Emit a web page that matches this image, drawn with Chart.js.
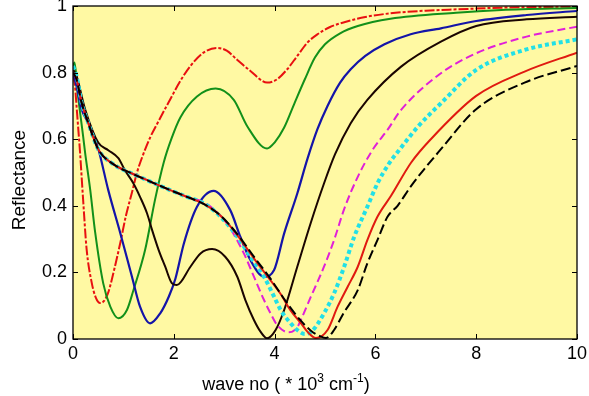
<!DOCTYPE html>
<html>
<head>
<meta charset="utf-8">
<script src="https://cdn.jsdelivr.net/npm/chart.js@4/dist/chart.umd.min.js"></script>
<style>
html,body{margin:0;padding:0;background:#fff;}
#wrap{width:589px;height:396px;position:relative;}
</style>
</head>
<body>
<div id="wrap"><canvas id="c" width="589" height="396"></canvas></div>
<script>
// ---- data ----
const xTicks = [0, 2, 4, 6, 8, 10];
const yTicks = [0, 0.2, 0.4, 0.6, 0.8, 1];

const redDashX = [0, 0.04, 0.07, 0.1, 0.14, 0.2, 0.27, 0.37, 0.45, 0.54, 0.62, 0.7, 0.82, 0.94, 1.05, 1.17, 1.27, 1.37, 1.53, 1.7, 1.93, 2.13, 2.33, 2.59, 2.85, 3.05, 3.26, 3.52, 3.85, 4.05, 4.25, 4.45, 4.65, 4.85, 5.1, 5.4, 5.8, 6.3, 7.0, 7.63, 8.5, 10];
const redDashY = [0.79, 0.76, 0.70, 0.64, 0.56, 0.42, 0.27, 0.17, 0.125, 0.108, 0.115, 0.14, 0.21, 0.29, 0.37, 0.44, 0.50, 0.545, 0.605, 0.655, 0.72, 0.775, 0.82, 0.86, 0.874, 0.866, 0.838, 0.805, 0.77, 0.78, 0.81, 0.85, 0.89, 0.915, 0.937, 0.952, 0.967, 0.978, 0.986, 0.99, 0.995, 0.998];

const greenX = [0, 0.03, 0.1, 0.2, 0.24, 0.34, 0.44, 0.6, 0.74, 0.9, 1.07, 1.2, 1.43, 1.63, 1.8, 1.95, 2.13, 2.46, 2.83, 3.19, 3.46, 3.85, 4.0, 4.19, 4.4, 4.6, 4.8, 5.0, 5.3, 5.65, 6.3, 7.6, 8.5, 10];
const greenY = [0.82, 0.83, 0.73, 0.61, 0.56, 0.45, 0.32, 0.167, 0.097, 0.062, 0.087, 0.147, 0.267, 0.42, 0.53, 0.60, 0.665, 0.728, 0.752, 0.718, 0.638, 0.572, 0.59, 0.635, 0.71, 0.78, 0.845, 0.885, 0.918, 0.94, 0.962, 0.98, 0.988, 0.994];

const blueX = [0, 0.07, 0.17, 0.34, 0.5, 0.7, 0.94, 1.17, 1.33, 1.53, 1.73, 1.9, 2.03, 2.2, 2.46, 2.79, 3.12, 3.32, 3.52, 3.79, 3.99, 4.19, 4.45, 4.65, 4.85, 5.05, 5.3, 5.51, 5.8, 6.18, 6.7, 7.3, 8.0, 9.0, 10];
const blueY = [0.80, 0.76, 0.69, 0.64, 0.572, 0.447, 0.317, 0.187, 0.097, 0.047, 0.077, 0.127, 0.18, 0.287, 0.397, 0.445, 0.387, 0.307, 0.237, 0.187, 0.207, 0.317, 0.437, 0.54, 0.63, 0.70, 0.77, 0.81, 0.85, 0.885, 0.915, 0.933, 0.955, 0.973, 0.985];

const blackX = [0, 0.07, 0.24, 0.5, 0.7, 0.9, 1.03, 1.2, 1.33, 1.47, 1.57, 1.7, 1.83, 1.96, 2.06, 2.33, 2.53, 2.76, 3.02, 3.26, 3.42, 3.59, 3.72, 3.85, 4.02, 4.19, 4.45, 4.72, 4.98, 5.2, 5.51, 5.84, 6.51, 7.3, 8.0, 9.0, 10];
const blackY = [0.81, 0.79, 0.69, 0.59, 0.567, 0.543, 0.507, 0.467, 0.427, 0.377, 0.327, 0.267, 0.217, 0.168, 0.162, 0.217, 0.257, 0.27, 0.247, 0.187, 0.117, 0.057, 0.022, 0.002, 0.027, 0.087, 0.217, 0.35, 0.467, 0.555, 0.648, 0.718, 0.818, 0.893, 0.94, 0.96, 0.968];

const magentaX = [0, 0.07, 0.17, 0.3, 0.5, 0.8, 1.17, 1.5, 1.93, 2.26, 2.66, 3.06, 3.39, 3.59, 3.79, 3.92, 4.05, 4.28, 4.45, 4.52, 4.72, 4.98, 5.18, 5.38, 5.65, 5.94, 6.24, 6.51, 7.3, 8.0, 9.0, 10];
const magentaY = [0.80, 0.78, 0.71, 0.65, 0.57, 0.525, 0.497, 0.475, 0.447, 0.427, 0.405, 0.345, 0.257, 0.187, 0.117, 0.077, 0.042, 0.02, 0.035, 0.057, 0.127, 0.217, 0.297, 0.39, 0.487, 0.567, 0.628, 0.688, 0.798, 0.858, 0.908, 0.938];

const cyanX = [0, 0.07, 0.17, 0.3, 0.5, 0.8, 1.17, 1.5, 1.93, 2.26, 2.6, 2.93, 3.26, 3.52, 3.79, 3.99, 4.12, 4.32, 4.45, 4.6, 4.75, 4.98, 5.18, 5.38, 5.58, 5.84, 6.04, 6.27, 6.47, 6.84, 7.3, 8.0, 8.96, 10];
const cyanY = [0.82, 0.79, 0.71, 0.65, 0.57, 0.525, 0.497, 0.475, 0.447, 0.427, 0.407, 0.367, 0.307, 0.247, 0.187, 0.127, 0.087, 0.047, 0.027, 0.015, 0.025, 0.077, 0.137, 0.217, 0.307, 0.397, 0.467, 0.527, 0.567, 0.637, 0.708, 0.808, 0.868, 0.90];

const redX = [0, 0.07, 0.17, 0.3, 0.5, 0.8, 1.17, 1.5, 1.93, 2.26, 2.6, 2.93, 3.26, 3.6, 3.9, 4.12, 4.32, 4.52, 4.65, 4.82, 5.05, 5.25, 5.45, 5.65, 5.84, 6.04, 6.31, 6.71, 7.1, 8.0, 8.96, 10];
const redY = [0.80, 0.78, 0.71, 0.65, 0.57, 0.525, 0.497, 0.475, 0.447, 0.427, 0.405, 0.37, 0.312, 0.24, 0.18, 0.135, 0.085, 0.048, 0.022, 0.003, 0.027, 0.097, 0.157, 0.217, 0.297, 0.367, 0.43, 0.53, 0.60, 0.73, 0.803, 0.86];

const blackDashX = [0, 0.07, 0.17, 0.3, 0.5, 0.8, 1.17, 1.5, 1.93, 2.26, 2.6, 2.93, 3.26, 3.6, 3.9, 4.25, 4.52, 4.72, 4.92, 5.02, 5.18, 5.37, 5.65, 5.84, 6.04, 6.24, 6.44, 6.71, 7.3, 8.0, 8.96, 10];
const blackDashY = [0.80, 0.78, 0.71, 0.65, 0.57, 0.525, 0.497, 0.475, 0.447, 0.427, 0.405, 0.37, 0.315, 0.245, 0.185, 0.107, 0.055, 0.025, 0.007, 0.003, 0.027, 0.078, 0.147, 0.227, 0.297, 0.367, 0.40, 0.46, 0.57, 0.69, 0.77, 0.82];

// ---- build datasets ----
function pts(xs, ys){ return xs.map((x,i)=>({x:x, y:ys[i]})); }
const seriesDefs = [
  {xs:redDashX,   ys:redDashY,   color:'#e81010', w:2,   dash:[10,2,3,2]},
  {xs:greenX,     ys:greenY,     color:'#12901a', w:2,   dash:[]},
  {xs:blueX,      ys:blueY,      color:'#1414a8', w:2.2, dash:[]},
  {xs:blackX,     ys:blackY,     color:'#1a0500', w:2,   dash:[]},
  {xs:magentaX,   ys:magentaY,   color:'#e020d8', w:2,   dash:[8,4]},
  {xs:cyanX,      ys:cyanY,      color:'#22e0e6', w:4,   dash:[4,3]},
  {xs:redX,       ys:redY,       color:'#e01a10', w:2,   dash:[]},
  {xs:blackDashX, ys:blackDashY, color:'#000000', w:2,   dash:[10,4]}
];
const datasets = seriesDefs.map((s,i)=>({
  data: pts(s.xs, s.ys),
  borderColor: s.color,
  borderWidth: s.w,
  borderDash: s.dash,
  pointRadius: 0,
  fill: false,
  cubicInterpolationMode: 'monotone',
  order: seriesDefs.length - i
}));

const FONT = '"Liberation Sans", Arial, sans-serif';

const framePlugin = {
  id: 'frame',
  beforeDraw(chart){
    const {ctx, chartArea:a} = chart;
    ctx.save();
    ctx.fillStyle = '#fff9a3';
    ctx.fillRect(a.left, a.top, a.right - a.left, a.bottom - a.top);
    ctx.restore();
  },
  afterDraw(chart){
    const {ctx, chartArea:a, scales} = chart;
    const xs = scales.x, ys = scales.y;
    ctx.save();
    ctx.strokeStyle = '#000';
    ctx.lineWidth = 1.3;
    ctx.strokeRect(a.left, a.top, a.right - a.left, a.bottom - a.top);
    const L = 5;
    ctx.lineWidth = 1;
    ctx.beginPath();
    xTicks.forEach(v=>{
      const p = Math.round(xs.getPixelForValue(v)) + 0.5;
      ctx.moveTo(p, a.bottom); ctx.lineTo(p, a.bottom - L);
      ctx.moveTo(p, a.top); ctx.lineTo(p, a.top + L);
    });
    yTicks.forEach(v=>{
      const p = Math.round(ys.getPixelForValue(v)) + 0.5;
      ctx.moveTo(a.left, p); ctx.lineTo(a.left + L, p);
      ctx.moveTo(a.right, p); ctx.lineTo(a.right - L, p);
    });
    ctx.stroke();

    // axis titles
    ctx.fillStyle = '#000';
    ctx.textBaseline = 'alphabetic';
    ctx.save();
    ctx.translate(25, 180);
    ctx.rotate(-Math.PI/2);
    ctx.textAlign = 'center';
    ctx.font = '19px ' + FONT;
    ctx.fillText('Reflectance', 0, 0);
    ctx.restore();
    const parts = [
      {t:'wave no ( * 10', sup:false},
      {t:'3', sup:true},
      {t:' cm', sup:false},
      {t:'-1', sup:true},
      {t:')', sup:false}
    ];
    const big = '18px ' + FONT, small = '12px ' + FONT;
    let total = 0;
    parts.forEach(p=>{ ctx.font = p.sup ? small : big; total += ctx.measureText(p.t).width; });
    let x = 286 - total/2;
    const base = 390;
    ctx.textAlign = 'left';
    parts.forEach(p=>{
      ctx.font = p.sup ? small : big;
      ctx.fillText(p.t, x, p.sup ? base - 8 : base);
      x += ctx.measureText(p.t).width;
    });
    ctx.restore();
  }
};

new Chart(document.getElementById('c'), {
  type: 'line',
  data: { datasets },
  options: {
    responsive: false,
    animation: false,
    devicePixelRatio: 1,
    layout: { padding: { top: 6, right: 12, left: 0, bottom: 0 } },
    plugins: { legend: { display: false }, tooltip: { enabled: false } },
    scales: {
      x: {
        type: 'linear', min: 0, max: 10,
        afterBuildTicks(scale){ scale.ticks = xTicks.map(v=>({value:v})); },
        afterFit(scale){ scale.height = 57; scale.paddingLeft = 0; scale.paddingRight = 0; },
        grid: { display: false, drawTicks: false },
        border: { display: false },
        ticks: { color: '#000', font: { size: 18, family: FONT }, padding: 4, maxRotation: 0,
                 callback: v => String(v) }
      },
      y: {
        type: 'linear', min: 0, max: 1,
        afterBuildTicks(scale){ scale.ticks = yTicks.map(v=>({value:v})); },
        afterFit(scale){ scale.width = 73; scale.paddingTop = 0; scale.paddingBottom = 0; },
        grid: { display: false, drawTicks: false },
        border: { display: false },
        ticks: { color: '#000', font: { size: 18, family: FONT }, padding: 6,
                 callback: v => (v === 0 ? '0' : v === 1 ? '1' : v.toFixed(1)) }
      }
    }
  },
  plugins: [framePlugin]
});
</script>
</body>
</html>
